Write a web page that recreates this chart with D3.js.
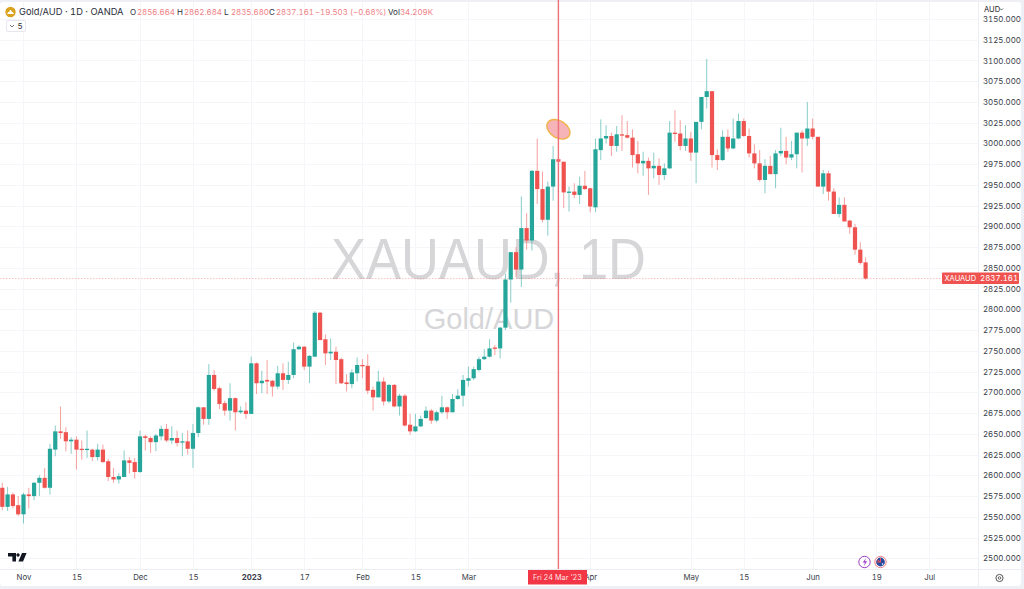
<!DOCTYPE html>
<html><head><meta charset="utf-8">
<script src="https://cdn.jsdelivr.net/npm/d3@7/dist/d3.min.js"></script>
<style>html,body{margin:0;padding:0;background:#fff;overflow:hidden}svg{display:block}text{font-family:Inter,"Liberation Sans",sans-serif;font-variant-numeric:tabular-nums}</style>
</head><body><svg id="c" width="1024" height="589"></svg>
<script>
const opens=[2585,2562,2577,2564,2553,2577,2575,2591,2597,2585,2631,2653,2652,2641,2643,2632,2631,2631,2622,2631,2617,2598,2595,2598,2618,2616,2604,2647,2645,2640,2647,2656,2642,2645,2640,2641,2632,2651,2682,2668,2721,2705,2687,2678,2693,2676,2678,2674,2735,2711,2715,2714,2707,2723,2715,2721,2752,2755,2731,2743,2796,2764,2747,2749,2740,2712,2710,2723,2733,2732,2703,2694,2713,2689,2709,2683,2696,2661,2653,2659,2669,2678,2666,2676,2682,2676,2692,2696,2714,2717,2727,2740,2743,2754,2753,2778,2836,2869,2848,2898,2883,2967,2945,2908,2948,2981,2978,2941,2942,2938,2949,2946,2923,2992,3006,3009,2997,3011,3010,3007,2987,2976,2979,2970,2973,2962,2970,3013,3012,2997,3006,2989,3026,3056,3063,2986,2980,3008,2994,3006,3027,3009,2988,2976,2956,2973,2963,2988,2991,2983,2987,3013,3006,3018,3008,2948,2964,2942,2915,2926,2907,2899,2872,2856.664];
const closes=[2562,2577,2563,2553,2577,2575,2591,2597,2585,2632,2653,2651,2641,2643,2631,2631,2632,2622,2631,2616,2598,2595,2599,2618,2615,2604,2647,2645,2640,2648,2656,2642,2645,2639,2641,2632,2651,2682,2668,2721,2704,2686,2678,2693,2676,2678,2674,2735,2711,2714,2713,2707,2723,2715,2721,2752,2755,2731,2744,2796,2763,2747,2749,2739,2711,2710,2724,2733,2732,2702,2694,2713,2689,2709,2683,2696,2660,2653,2659,2668,2678,2666,2676,2682,2676,2692,2696,2715,2717,2728,2740,2743,2753,2753,2778,2836,2869,2848,2898,2883,2967,2945,2908,2948,2981,2978,2941,2942,2938,2949,2945,2924,2993,3006,3009,2997,3011,3010,3007,2986,2976,2979,2970,2973,2962,2970,3013,3012,2997,3006,2989,3026,3056,3063,2986,2980,3008,2994,3006,3027,3009,2988,2976,2956,2973,2963,2988,2991,2983,2987,3013,3006,3018,3008,2948,2964,2942,2915,2926,2906,2899,2872,2856,2837.161];
const highs=[2591,2586,2579,2575,2579,2585,2592,2600,2609,2638,2660,2683,2658,2646,2647,2642,2654,2632,2638,2637,2620,2609,2603,2630,2622,2621,2654,2649,2647,2650,2660,2662,2659,2654,2651,2654,2662,2683,2682,2734,2727,2707,2690,2711,2694,2683,2688,2743,2736,2726,2739,2715,2732,2735,2737,2760,2757,2756,2745,2798,2797,2770,2765,2755,2742,2722,2728,2742,2740,2746,2707,2726,2718,2710,2710,2698,2698,2674,2674,2672,2683,2680,2678,2696,2683,2698,2704,2721,2731,2731,2743,2752,2764,2757,2779,2843,2869,2875,2936,2916,2968,3006,2966,2954,2997,2984,2978,2948,2952,2960,2967,2946,3006,3029,3022,3013,3021,3034,3027,3017,3003,2990,2983,2989,2982,2976,3027,3040,3028,3022,3014,3026,3056,3102,3063,2993,3016,3017,3030,3036,3030,3018,2999,2992,2981,2985,2992,3019,3008,3003,3013,3016,3050,3030,3008,2968,2967,2946,2935,2935,2908,2903,2881,2862.684];
const lows=[2558,2557,2560,2551,2542,2560,2570,2575,2584,2577,2623,2644,2629,2626,2607,2619,2621,2617,2618,2615,2593,2591,2590,2598,2602,2596,2603,2630,2627,2629,2642,2640,2638,2635,2623,2625,2609,2646,2661,2661,2702,2680,2672,2666,2654,2674,2668,2674,2698,2699,2698,2695,2704,2703,2710,2717,2751,2727,2711,2743,2763,2733,2739,2710,2710,2701,2705,2713,2717,2698,2678,2694,2684,2687,2682,2672,2659,2649,2652,2658,2668,2662,2664,2674,2668,2676,2691,2683,2707,2715,2725,2739,2742,2745,2741,2775,2808,2839,2827,2872,2871,2927,2905,2889,2931,2976,2922,2918,2934,2927,2944,2917,2917,2980,3000,2985,2990,2991,3006,2971,2964,2961,2938,2958,2950,2956,2969,3002,2992,2991,2979,2952,3017,3042,2971,2968,2979,2990,2993,3005,3008,2983,2970,2954,2940,2963,2946,2985,2975,2980,2970,2965,2997,3005,2948,2939,2931,2915,2911,2906,2891,2866,2854,2835.68];
const priceTicks=d3.range(2500,3151,25);
const timeBars=[4,14,26,36,47,57,68,78,88,111,130,140,153,165,175];
const timeLabels=["Nov","15","Dec","15","2023","17","Feb","15","Mar","Apr","May","15","Jun","19","Jul"];
const crossBar=105, crossLabel="Fri 24 Mar '23", lastClose=2837.161, noteValue=3017;
const legendVals=[["O","2856.664",130],["H","2862.684",177],["L","2835.680",224],["C","2837.161",269]];

const up="#26a69a",down="#ef5350",crossCol="#ee6f79";
const svg=d3.select("#c");
const x=d3.scaleLinear().domain([0,163]).range([2.3,865.6]);
const y=d3.scaleLinear().domain([2500,3150]).range([558.3,19]);
const W=978,B=569.5;

svg.append("rect").attr("width",1024).attr("height",589).attr("fill","#eef0f6");
svg.append("rect").attr("x",0).attr("y",2).attr("width",1021).attr("height",584).attr("rx",3).attr("fill","#fff");

const grid=svg.append("g").attr("stroke","#f5f6f9").attr("stroke-width",1);
priceTicks.forEach(v=>grid.append("line").attr("x1",0).attr("x2",W).attr("y1",Math.round(y(v))+.5).attr("y2",Math.round(y(v))+.5));
timeBars.forEach(b=>grid.append("line").attr("x1",Math.round(x(b))+.5).attr("x2",Math.round(x(b))+.5).attr("y1",2).attr("y2",B));

svg.append("text").attr("x",331).attr("y",279).attr("textLength",315).attr("lengthAdjust","spacingAndGlyphs").attr("font-size",58).attr("fill","#d6d6d8").style("font-family","'Liberation Sans',sans-serif").text("XAUAUD, 1D");
svg.append("text").attr("x",489).attr("y",329).attr("text-anchor","middle").attr("font-size",29).attr("fill","#d6d6d8").style("font-family","'Liberation Sans',sans-serif").text("Gold/AUD");

svg.append("line").attr("x1",0).attr("x2",W).attr("y1",y(lastClose)).attr("y2",y(lastClose)).attr("stroke",down).attr("stroke-opacity",.35).attr("stroke-dasharray","1.5 1.5");

const idx=d3.range(opens.length);
const colour=i=>closes[i]>=opens[i]?up:down;
svg.append("g").selectAll("line").data(idx).join("line")
  .attr("x1",i=>x(i)).attr("x2",i=>x(i)).attr("y1",i=>y(highs[i])).attr("y2",i=>y(lows[i]))
  .attr("stroke",colour).attr("stroke-opacity",.55).attr("stroke-width",1);
svg.append("g").selectAll("rect").data(idx).join("rect")
  .attr("x",i=>x(i)-2.1).attr("width",4.2)
  .attr("y",i=>Math.min(y(opens[i]),y(closes[i])))
  .attr("height",i=>Math.max(1.3,Math.abs(y(opens[i])-y(closes[i]))))
  .attr("fill",colour);

svg.append("ellipse").attr("rx",12.5).attr("ry",8.5)
  .attr("transform",`translate(${x(crossBar)},${y(noteValue)}) rotate(32)`)
  .attr("fill","#f6b4b8").attr("stroke","#f0b348").attr("stroke-width",1.4);

svg.append("line").attr("x1",x(crossBar)).attr("x2",x(crossBar)).attr("y1",0).attr("y2",B).attr("stroke",crossCol).attr("stroke-width",1.4);

svg.append("line").attr("x1",W+.5).attr("x2",W+.5).attr("y1",2).attr("y2",586).attr("stroke","#eceef3");
svg.append("line").attr("x1",0).attr("x2",1021).attr("y1",B).attr("y2",B).attr("stroke","#eceef3");

const yAxis=d3.axisRight(y).tickValues(priceTicks).tickSize(0).tickPadding(0).tickFormat(d3.format(".3f"));
const gy=svg.append("g").attr("transform",`translate(983,0)`).call(yAxis);
gy.select(".domain").remove();
gy.selectAll("text").attr("font-size",7.9).attr("fill","#3a3e4a");

const xAxis=d3.axisBottom(x).tickValues(timeBars).tickSize(0).tickPadding(0).tickFormat((d,i)=>timeLabels[i]);
const gx=svg.append("g").attr("transform",`translate(0,574)`).call(xAxis);
gx.select(".domain").remove();
gx.selectAll("text").attr("font-size",7.8).attr("fill","#3a3e4a")
  .attr("font-weight",(d,i)=>timeLabels[i]==="2023"?700:400);

svg.append("rect").attr("x",528).attr("y",570).attr("width",59).attr("height",14.5).attr("fill","#f23645");
svg.append("text").attr("x",557.5).attr("y",580.3).attr("text-anchor","middle").attr("font-size",7.3).attr("fill","#fff").attr("fill-opacity",.9).text(crossLabel);

svg.append("rect").attr("x",942).attr("y",272.5).attr("width",77).attr("height",11.5).attr("rx",1).attr("fill",down);
svg.append("text").attr("x",944.5).attr("y",281.2).attr("font-size",7.5).attr("fill","#fff").text("XAUAUD");
svg.append("text").attr("x",1018).attr("y",281.2).attr("text-anchor","end").attr("font-size",7.9).attr("fill","#fff").text(d3.format(".3f")(lastClose));

svg.append("rect").attr("x",979).attr("y",3).attr("width",41).attr("height",11.5).attr("fill","#fff");
svg.append("text").attr("x",984).attr("y",12).attr("font-size",7.6).attr("fill","#222").text("AUD");
svg.append("path").attr("d","M1000 8.5l1.5 1.5 1.5-1.5").attr("fill","none").attr("stroke","#444").attr("stroke-width",.8);

svg.append("circle").attr("cx",10.5).attr("cy",12).attr("r",5.2).attr("fill","#d9a21f");
svg.append("path").attr("d","M7 14h7l-1.2-2h-1l-.8-2h-1l-.8 2h-1z").attr("fill","#fff");
svg.append("text").attr("x",19).attr("y",15.3).attr("font-size",9.3).attr("fill","#2a2e39").text("Gold/AUD · 1D · OANDA");
const lt="#ef7f86";
legendVals.forEach(([k,v,px])=>{
  svg.append("text").attr("x",px).attr("y",15.2).attr("font-size",8).attr("fill","#2a2e39").text(k);
  svg.append("text").attr("x",px+7).attr("y",15.2).attr("font-size",7.9).attr("fill",lt).text(v);
});
svg.append("text").attr("x",315).attr("y",15.2).attr("font-size",7.9).attr("fill",lt).text("−19.503 (−0.68%)");
svg.append("text").attr("x",388).attr("y",15.2).attr("font-size",8).attr("fill","#2a2e39").text("Vol");
svg.append("text").attr("x",400).attr("y",15.2).attr("font-size",7.9).attr("fill",lt).text("34.209K");

svg.append("rect").attr("x",6.5).attr("y",20.5).attr("width",19).attr("height",11).attr("rx",1.5).attr("fill","#fff").attr("stroke","#e6e8ee");
svg.append("path").attr("d","M10 25l2 2 2-2").attr("fill","none").attr("stroke","#555").attr("stroke-width",.8);
svg.append("text").attr("x",17.5).attr("y",29).attr("font-size",8).attr("fill","#333").text("5");

svg.append("path").attr("d","M8 553h8v8.5h-3.6v-5H8zM18 553.3a1.7 1.7 0 1 0 .01 0zM22 553h4.6l-3.6 8.5h-4.6z").attr("fill","#131722");

const ev=svg.append("g");
ev.append("circle").attr("cx",864.5).attr("cy",562).attr("r",5.7).attr("fill","#fff").attr("stroke","#9c3fc4").attr("stroke-width",1);
ev.append("path").attr("d","M866 558l-3.3 4.6h2.2l-1.1 3.4 3.4-4.8h-2.3z").attr("fill","#9c3fc4");
ev.append("circle").attr("cx",880.5).attr("cy",562).attr("r",5.7).attr("fill","#fff").attr("stroke","#ef7f86").attr("stroke-width",1);
ev.append("circle").attr("cx",880.5).attr("cy",562).attr("r",4.4).attr("fill","#274a9c");
ev.append("path").attr("d","M877 559.5l3.5 2.5M880.5 558v4M876.5 562h4").attr("stroke","#e9535f").attr("stroke-width",1);
ev.append("circle").attr("cx",882.5).attr("cy",564).attr("r",.8).attr("fill","#fff");

svg.append("circle").attr("cx",999.5).attr("cy",578).attr("r",3.6).attr("fill","none").attr("stroke","#444").attr("stroke-width",.9);
svg.append("circle").attr("cx",999.5).attr("cy",578).attr("r",1.3).attr("fill","none").attr("stroke","#444").attr("stroke-width",.8);
</script></body></html>
